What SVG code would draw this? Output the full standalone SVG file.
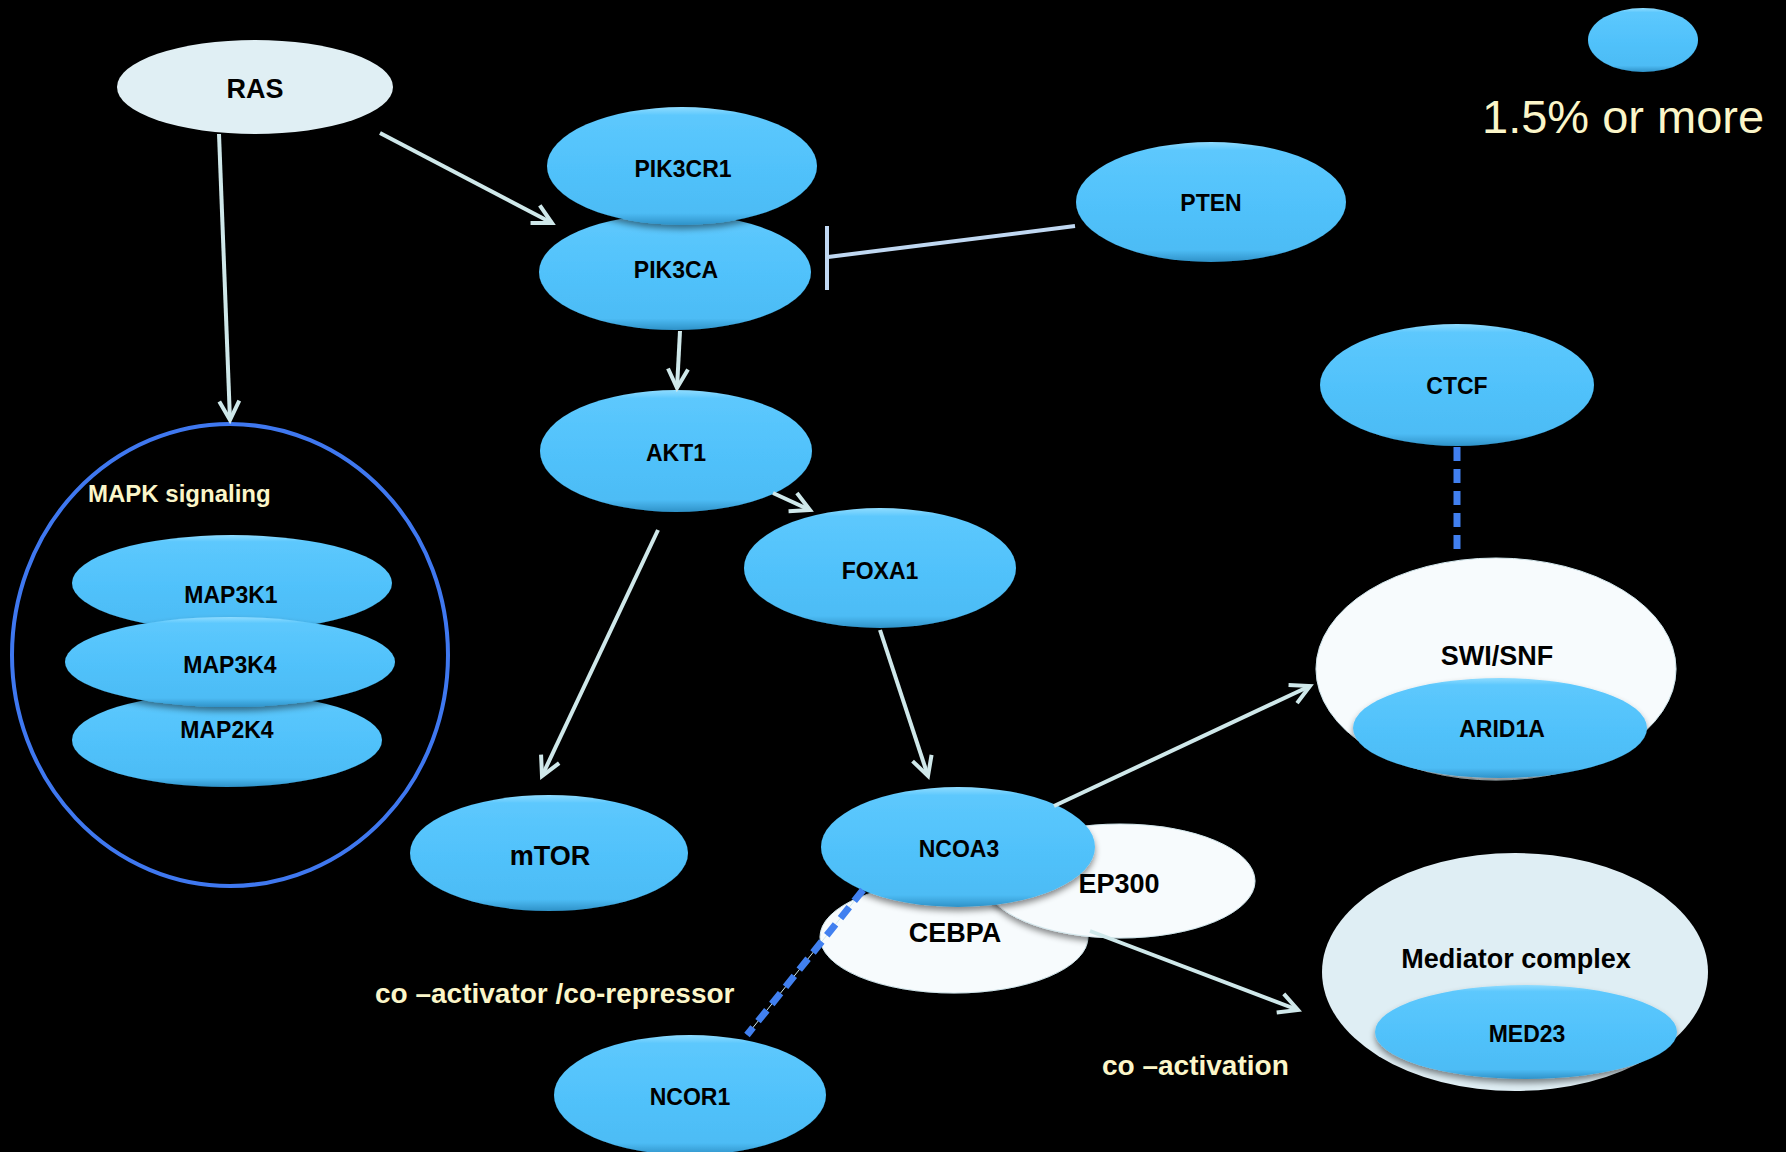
<svg xmlns="http://www.w3.org/2000/svg" width="1786" height="1152" viewBox="0 0 1786 1152">
<style>
.bg{fill:#000}
.blue{fill:url(#gBlue);filter:url(#sh)}
.white{fill:#f7fbfd;stroke:#d4e8ee;stroke-width:1;filter:url(#sh)}
.pale{fill:#dfeef4}
.lbl{font-family:"Liberation Sans",Arial,sans-serif;font-weight:bold;fill:#000;text-anchor:middle}
.s23{font-size:23px}
.s27{font-size:27px}
.note{font-family:"Liberation Sans",Arial,sans-serif;font-weight:bold;fill:#fbf6c9}
.conn{stroke:#cfe8ea;stroke-width:4;fill:none;marker-end:url(#arr)}
.inh{stroke:#c0d8f2;stroke-width:4;fill:none}
.dash{stroke:#4180f0;stroke-width:7;stroke-dasharray:14 8;fill:none}
</style>
<defs>
<linearGradient id="gBlue" x1="0" y1="0" x2="0" y2="1">
<stop offset="0" stop-color="#8fdcff"/>
<stop offset="0.07" stop-color="#5dc8fd"/>
<stop offset="0.5" stop-color="#51c2fb"/>
<stop offset="0.9" stop-color="#4dbcf5"/>
<stop offset="1" stop-color="#2f92c8"/>
</linearGradient>
<filter id="sh" x="-10%" y="-10%" width="120%" height="130%">
<feDropShadow dx="0" dy="4" stdDeviation="3" flood-color="#000" flood-opacity="0.45"/>
</filter>
<marker id="arr" markerUnits="userSpaceOnUse" markerWidth="28" markerHeight="28" viewBox="0 0 28 28" refX="24" refY="14" orient="auto">
<path d="M5,4 L24,14 L5,24" stroke="#cfe8ea" stroke-width="4" fill="none"/>
</marker>
</defs>
<rect class="bg" x="0" y="0" width="1786" height="1152"/>

<g id="legend">
<ellipse class="blue" cx="1643" cy="40" rx="55" ry="32"/>
<text x="1482" y="133" style="font-family:'Liberation Sans',Arial,sans-serif;font-size:47px;fill:#fbf6c9">1.5% or more</text>
</g>

<g id="mapk">
<ellipse cx="230" cy="655" rx="218" ry="231" fill="none" stroke="#3f78f0" stroke-width="4"/>
<text class="note" x="88" y="502" style="font-size:24px">MAPK signaling</text>
</g>
<g id="MAP3K1"><ellipse class="blue" cx="232" cy="583" rx="160" ry="48"/><text class="lbl s23" x="231" y="603">MAP3K1</text></g>
<g id="MAP2K4"><ellipse class="blue" cx="227" cy="740" rx="155" ry="47"/><text class="lbl s23" x="227" y="738">MAP2K4</text></g>
<g id="MAP3K4"><ellipse class="blue" cx="230" cy="662" rx="165" ry="45"/><text class="lbl s23" x="230" y="673">MAP3K4</text></g>

<g id="RAS"><ellipse cx="255" cy="87" rx="138" ry="47" fill="#e0eff4"/><text class="lbl s27" x="255" y="98">RAS</text></g>
<g id="PIK3CA"><ellipse class="blue" cx="675" cy="272" rx="136" ry="58"/><text class="lbl s23" x="676" y="278">PIK3CA</text></g>
<g id="PIK3CR1"><ellipse class="blue" cx="682" cy="166" rx="135" ry="59"/><text class="lbl s23" x="683" y="177">PIK3CR1</text></g>
<g id="PTEN"><ellipse class="blue" cx="1211" cy="202" rx="135" ry="60"/><text class="lbl s23" x="1211" y="211">PTEN</text></g>
<g id="AKT1"><ellipse class="blue" cx="676" cy="451" rx="136" ry="61"/><text class="lbl s23" x="676" y="461">AKT1</text></g>
<g id="FOXA1"><ellipse class="blue" cx="880" cy="568" rx="136" ry="60"/><text class="lbl s23" x="880" y="579">FOXA1</text></g>
<g id="mTOR"><ellipse class="blue" cx="549" cy="853" rx="139" ry="58"/><text class="lbl s27" x="550" y="865">mTOR</text></g>
<g id="NCOR1"><ellipse class="blue" cx="690" cy="1095" rx="136" ry="60"/><text class="lbl s23" x="690" y="1105">NCOR1</text></g>
<g id="CEBPA"><ellipse class="white" cx="954" cy="937" rx="134" ry="56"/><text class="lbl s27" x="955" y="942">CEBPA</text></g>
<g id="EP300"><ellipse class="white" cx="1120" cy="881" rx="135" ry="57"/><text class="lbl s27" x="1119" y="893">EP300</text></g>
<g id="NCOA3"><ellipse class="blue" cx="958" cy="847" rx="137" ry="60"/><text class="lbl s23" x="959" y="857">NCOA3</text></g>
<g id="CTCF"><ellipse class="blue" cx="1457" cy="385" rx="137" ry="61"/><text class="lbl s23" x="1457" y="394">CTCF</text></g>
<g id="SWI_SNF"><ellipse class="white" cx="1496" cy="669" rx="180" ry="111"/><text class="lbl s27" x="1497" y="665">SWI/SNF</text></g>
<g id="ARID1A"><ellipse class="blue" cx="1500" cy="728" rx="147" ry="50"/><text class="lbl s23" x="1502" y="737">ARID1A</text></g>
<g id="Mediator"><ellipse class="pale" cx="1515" cy="972" rx="193" ry="119"/><text class="lbl s27" x="1516" y="968">Mediator complex</text></g>
<g id="MED23"><ellipse class="blue" cx="1526" cy="1032" rx="151" ry="47"/><text class="lbl s23" x="1527" y="1042">MED23</text></g>

<g id="labels">
<text class="note" x="375" y="1003" style="font-size:28px">co –activator /co-repressor</text>
<text class="note" x="1102" y="1075" style="font-size:28px">co –activation</text>
</g>

<g id="connectors">
<line class="conn" x1="219" y1="134" x2="230" y2="420"/>
<line class="conn" x1="380" y1="133" x2="552" y2="223"/>
<line class="inh" x1="1075" y1="226" x2="828" y2="257"/>
<line class="inh" x1="827" y1="226" x2="827" y2="290"/>
<line class="conn" x1="680" y1="331" x2="677" y2="388"/>
<line class="conn" x1="773" y1="493" x2="810" y2="510"/>
<line class="conn" x1="658" y1="530" x2="542" y2="776"/>
<line class="conn" x1="880" y1="630" x2="928" y2="776"/>
<line class="conn" x1="1054" y1="806" x2="1310" y2="686"/>
<line class="conn" x1="1090" y1="931" x2="1298" y2="1010"/>
<line class="dash" x1="1457" y1="447" x2="1457" y2="556"/>
<line x1="863" y1="890" x2="747" y2="1035" stroke="#cfe8ea" stroke-width="1"/>
<line class="dash" x1="863" y1="890" x2="747" y2="1035"/>
</g>
</svg>
